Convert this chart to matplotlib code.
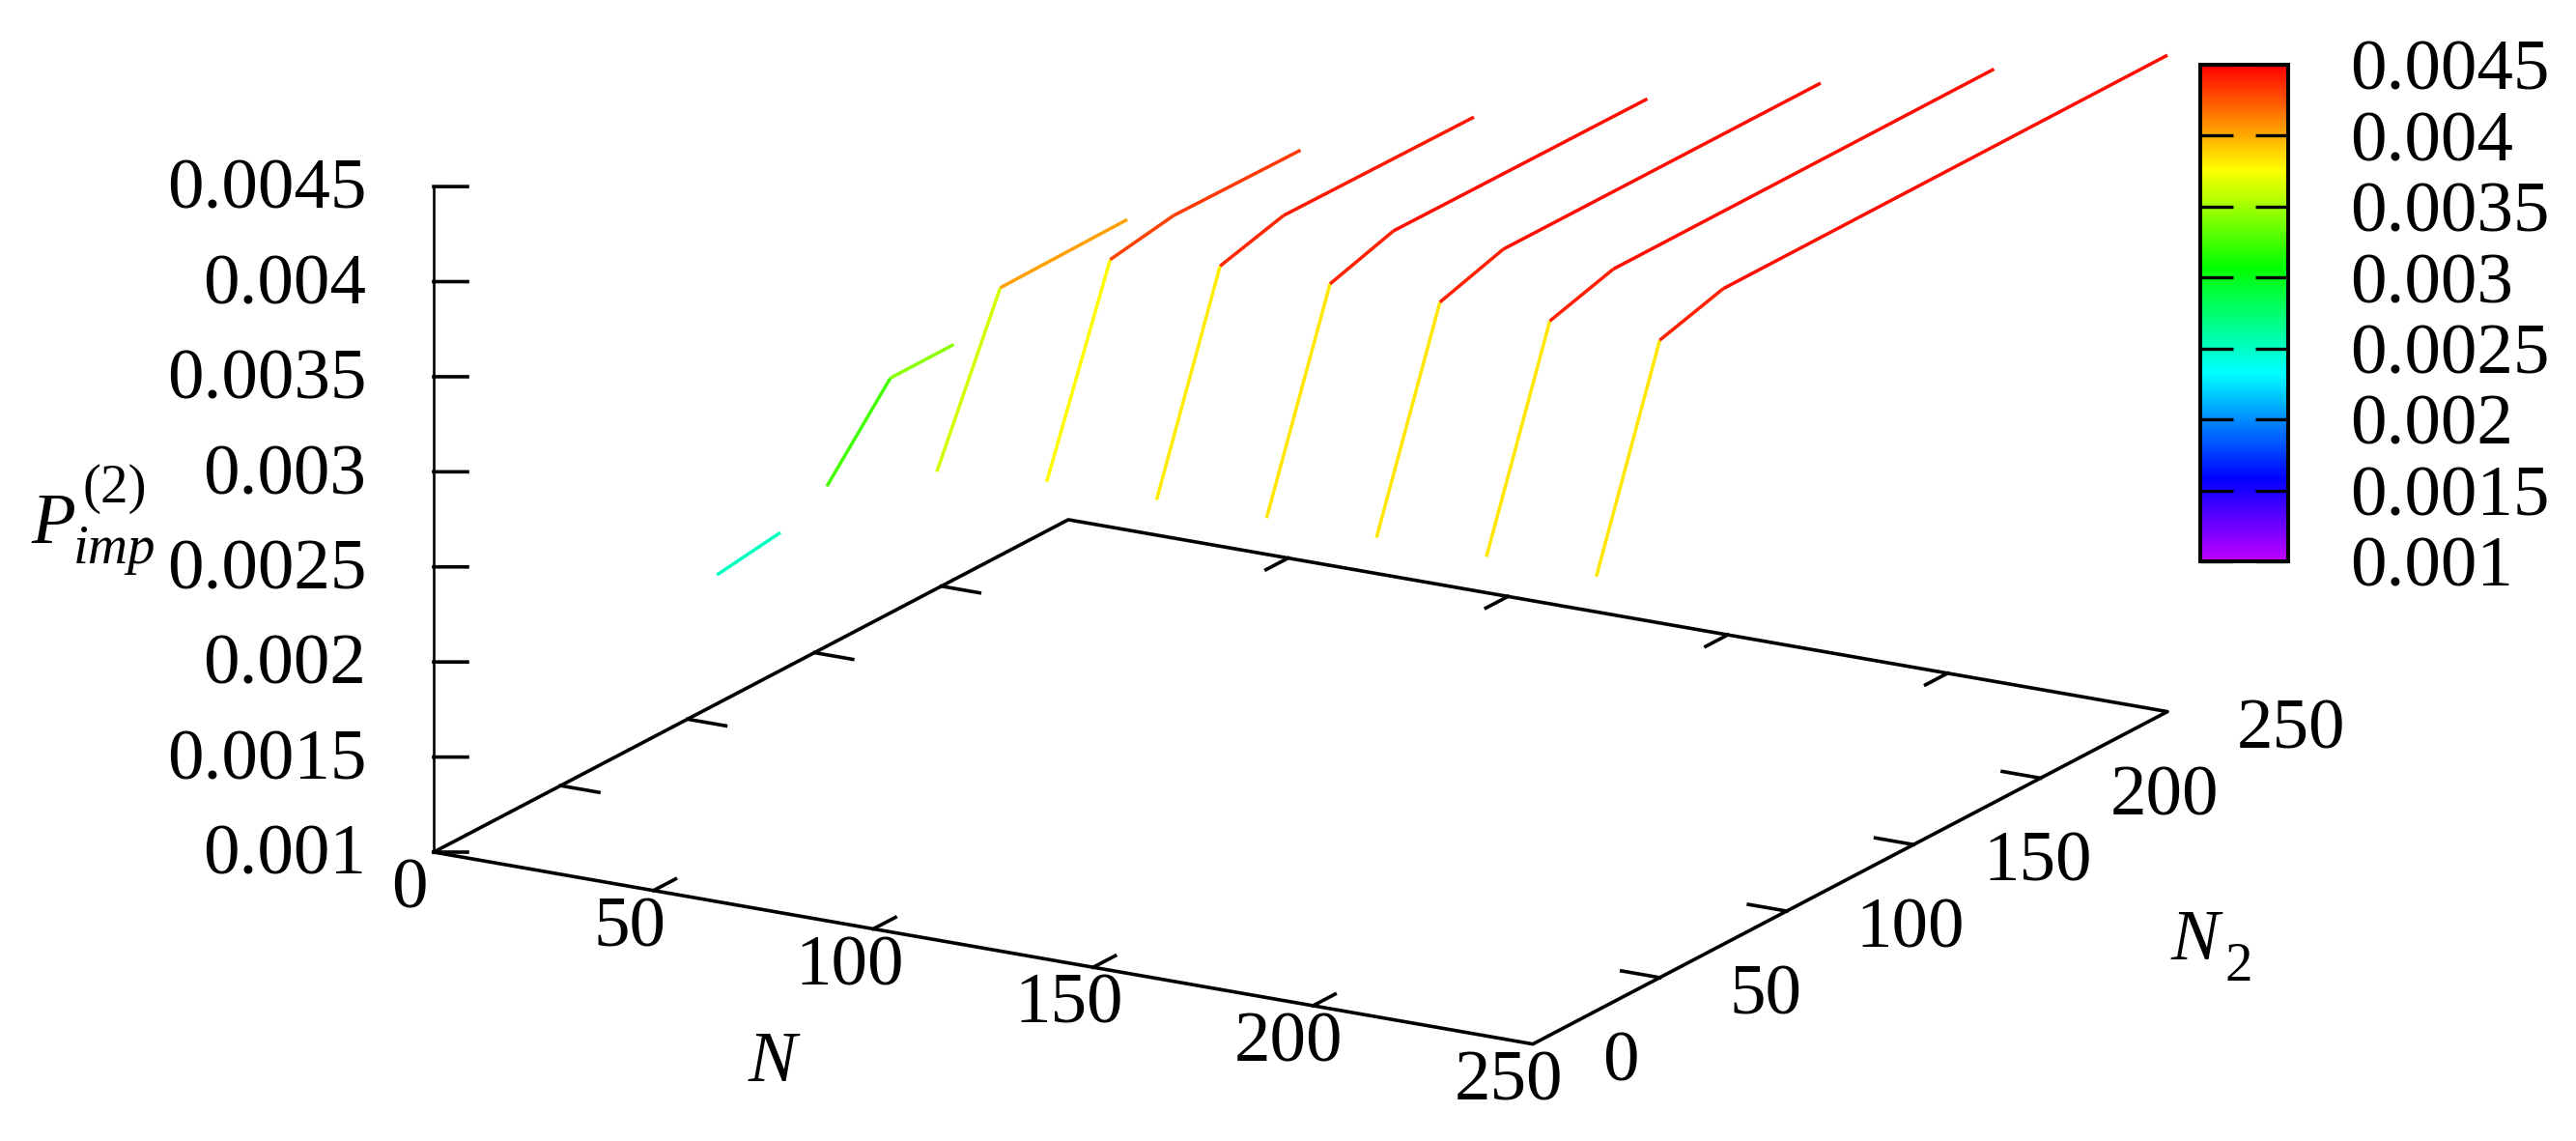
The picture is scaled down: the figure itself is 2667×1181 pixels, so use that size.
#!/usr/bin/env python3
# -*- coding: utf-8 -*-
import matplotlib
matplotlib.use("Agg")
import matplotlib.pyplot as plt
from matplotlib.colors import LinearSegmentedColormap, Normalize
from matplotlib.cm import ScalarMappable
from matplotlib.transforms import IdentityTransform
from mpl_toolkits.mplot3d import proj3d

plt.rcParams['font.family'] = ['Liberation Serif', 'DejaVu Serif']

# one curve per N
n2_n50 = [25, 50]
z_n50 = [0.002485, 0.002533]
n2_n75 = [25, 50, 75]
z_n75 = [0.003052, 0.003446, 0.003448]
n2_n100 = [25, 50, 100]
z_n100 = [0.003229, 0.004022, 0.004031]
n2_n125 = [25, 50, 75, 125]
z_n125 = [0.003277, 0.004271, 0.004328, 0.004322]
n2_n150 = [25, 50, 75, 150]
z_n150 = [0.003284, 0.004338, 0.004429, 0.004422]
n2_n175 = [25, 50, 75, 175]
z_n175 = [0.003288, 0.004345, 0.004449, 0.004444]
n2_n200 = [25, 50, 75, 200]
z_n200 = [0.003286, 0.004350, 0.004454, 0.004453]
n2_n225 = [25, 50, 75, 225]
z_n225 = [0.003286, 0.004352, 0.004450, 0.004453]
n2_n250 = [25, 50, 75, 250]
z_n250 = [0.003283, 0.004352, 0.004448, 0.004452]
curves = [(50, n2_n50, z_n50), (75, n2_n75, z_n75), (100, n2_n100, z_n100),
          (125, n2_n125, z_n125), (150, n2_n150, z_n150), (175, n2_n175, z_n175),
          (200, n2_n200, z_n200), (225, n2_n225, z_n225), (250, n2_n250, z_n250)]

xy_ticks = [0, 50, 100, 150, 200, 250]
z_ticks = [0.001, 0.0015, 0.002, 0.0025, 0.003, 0.0035, 0.004, 0.0045]
z_labels = ['0.001', '0.0015', '0.002', '0.0025', '0.003', '0.0035', '0.004', '0.0045']

# palette of the colour box
pal_pos = [0.0, 0.166, 0.379, 0.592, 0.788, 1.0]
pal_col = ['#be00ff', '#0000ff', '#00ffff', '#00ff00', '#ffff00', '#ff0000']
cmap = LinearSegmentedColormap.from_list('box', list(zip(pal_pos, pal_col)))
norm = Normalize(z_ticks[0], z_ticks[-1])

W, H = 2667, 1181
fig = plt.figure(figsize=(W / 100, H / 100), dpi=100)
ax = fig.add_axes([0.1, 0.1, 1000 / W, 1000 / H], projection='3d', proj_type='ortho')
ax.view_init(elev=17.6, azim=-60)
ax.set_box_aspect((1, 1, 0.55))
ax.set_xlim(0, 250)
ax.set_ylim(0, 250)
ax.set_zlim(z_ticks[0], z_ticks[-1])
ax.set_axis_off()
ax.patch.set_alpha(0)
fig.patch.set_facecolor('white')


def to_px(n, n2, z):
    x, y, _ = proj3d.proj_transform(n, n2, z, ax.get_proj())
    return ax.transData.transform((x, y))


# move the 3d box so that the origin and the N=250 corner land where they should
fig.canvas.draw()
p0 = to_px(0, 0, z_ticks[0])
p1 = to_px(250, 0, z_ticks[0])
size = 1000 * (1587 - 449) / (p1[0] - p0[0])
u = ax.transAxes.inverted().transform(p0)
left = 449 - size * u[0]
bottom = (H - 882) - size * u[1]
ax.set_position([left / W, bottom / H, size / W, size / H])
fig.canvas.draw()

# data lines, each piece coloured by its mean height
for n, n2s, zs in curves:
    for i in range(len(n2s) - 1):
        ax.plot([n, n], n2s[i:i + 2], zs[i:i + 2], lw=2.5,
                color=cmap(norm((zs[i] + zs[i + 1]) / 2)), solid_capstyle='butt')

# base frame and z axis
lw_axis = 2.6
z0 = z_ticks[0]
ax.plot([0, 250, 250, 0, 0], [0, 0, 250, 250, 0], [z0] * 5, color='black', lw=lw_axis,
        solid_capstyle='projecting')
ax.plot([0, 0], [0, 0], [z0, z_ticks[-1]], color='black', lw=1.9)
tick_len = 8.7
for t in xy_ticks[1:-1]:
    ax.plot([t, t], [0, tick_len], [z0, z0], color='black', lw=lw_axis)
    ax.plot([t, t], [250, 250 - tick_len], [z0, z0], color='black', lw=lw_axis)
    ax.plot([0, tick_len], [t, t], [z0, z0], color='black', lw=lw_axis)
    ax.plot([250, 250 - tick_len], [t, t], [z0, z0], color='black', lw=lw_axis)
for t in z_ticks:
    ax.plot([0, 5.77], [0, 3.32], [t, t], color='black', lw=lw_axis)

# labels, placed by pixel offset from their tick
fs = 54
fs_small = 41
px = IdentityTransform()


def label(x, y, s, **kw):
    fig.text(x, y + 3, s, transform=px, fontsize=fs, va='center_baseline', **kw)


def piece(x, y_img, s, size, style='normal'):
    # y_img is the baseline, counted from the top of the picture
    fig.text(x, H - y_img, s, transform=px, fontsize=size, va='baseline', style=style)


for t, s in zip(z_ticks, z_labels):
    p = to_px(0, 0, t)
    label(p[0] - 70, p[1], s, ha='right')
for t in xy_ticks:
    p = to_px(t, 0, z0)
    label(p[0] - 25, p[1] - 35, str(t), ha='center')
    p = to_px(250, t, z0)
    label(p[0] + 72, p[1] - 15, str(t), ha='left')

# axis titles put together from pieces, the script sizes are larger than mathtext's
piece(775, 1119, 'N', fs, 'italic')
piece(2248, 993, 'N', fs, 'italic')
piece(2303, 1015, '2', fs_small)
piece(32, 562, 'P', fs, 'italic')
piece(85, 520, '(2)', fs_small)
piece(76, 583, 'imp', fs_small, 'italic')

# colour box
cax = fig.add_axes([2278 / W, (H - 581) / H, (2369 - 2278) / W, (581 - 67) / H])
cb = fig.colorbar(ScalarMappable(norm=norm, cmap=cmap), cax=cax, ticks=z_ticks)
cb.ax.set_yticklabels(z_labels)
cb.outline.set_linewidth(2.9)
cb.ax.tick_params(direction='in', length=24.5, width=2.4, left=True, right=True,
                  labelright=True, labelleft=False, labelsize=fs, pad=46)

fig.savefig('out.png', dpi=100)
